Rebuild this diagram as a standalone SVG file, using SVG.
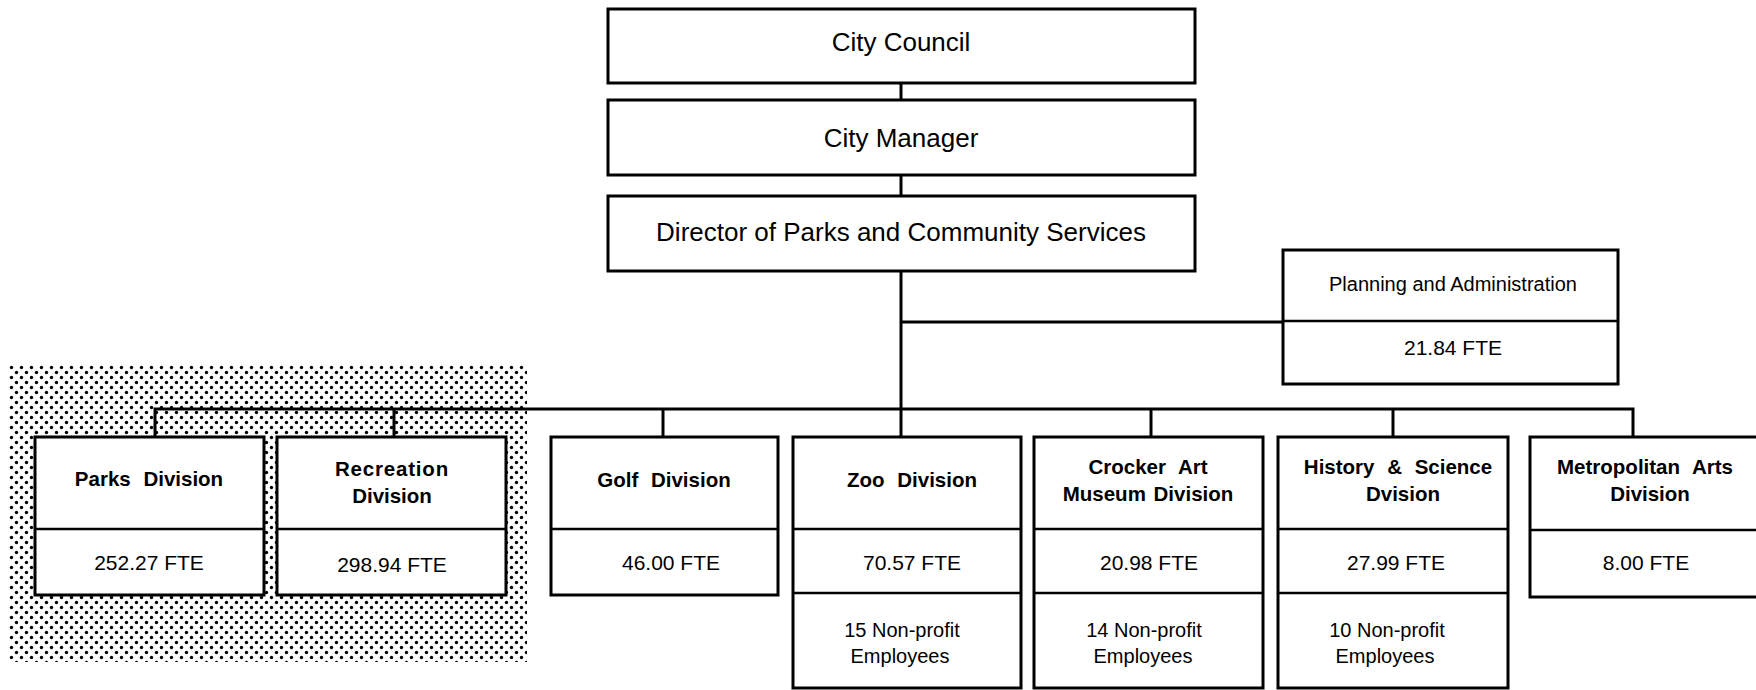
<svg xmlns="http://www.w3.org/2000/svg" width="1756" height="690" viewBox="0 0 1756 690">
<defs>
<pattern id="stip" x="9" y="365" width="10" height="10" patternUnits="userSpaceOnUse">
<circle cx="2.5" cy="2.5" r="1.7" fill="#000"/>
<circle cx="7.5" cy="7.5" r="1.7" fill="#000"/>
</pattern>
<style>
.box{fill:#fff;stroke:#000;stroke-width:3}
.div{stroke:#000;stroke-width:2.5;fill:none}
.con{stroke:#000;stroke-width:3;fill:none}
.top{font-family:"Liberation Sans",Arial,sans-serif;font-size:26px;text-anchor:middle;fill:#000}
.ttl{font-family:"Liberation Sans",Arial,sans-serif;font-size:20.5px;font-weight:bold;text-anchor:middle;fill:#000;word-spacing:7px}
.fte{font-family:"Liberation Sans",Arial,sans-serif;font-size:21px;text-anchor:middle;fill:#000}
.np{font-family:"Liberation Sans",Arial,sans-serif;font-size:20px;text-anchor:middle;fill:#000}
</style>
</defs>
<rect width="1756" height="690" fill="#fff"/>
<rect id="shade" x="9" y="365" width="518" height="297" fill="url(#stip)"/>

<g id="connectors">
<line class="con" x1="901" y1="83" x2="901" y2="100"/>
<line class="con" x1="901" y1="175" x2="901" y2="196"/>
<line class="con" x1="901" y1="271" x2="901" y2="437"/>
<line class="con" x1="901" y1="322" x2="1283" y2="322"/>
<polyline class="con" points="155,437 155,409 1633,409 1633,437"/>
<line class="con" x1="394" y1="409" x2="394" y2="437"/>
<line class="con" x1="663" y1="409" x2="663" y2="437"/>
<line class="con" x1="1151" y1="409" x2="1151" y2="437"/>
<line class="con" x1="1393" y1="409" x2="1393" y2="437"/>
</g>

<g id="city-council">
<rect class="box" x="608" y="9" width="587" height="74"/>
<text class="top" x="901" y="51">City Council</text>
</g>
<g id="city-manager">
<rect class="box" x="608" y="100" width="587" height="75"/>
<text class="top" x="901" y="147">City Manager</text>
</g>
<g id="director">
<rect class="box" x="608" y="196" width="587" height="75"/>
<text class="top" x="901" y="241">Director of Parks and Community Services</text>
</g>
<g id="planning">
<rect class="box" x="1283" y="250" width="335" height="134"/>
<line class="div" x1="1283" y1="321" x2="1618" y2="321"/>
<text class="fte" x="1453" y="291" style="font-size:20px">Planning and Administration</text>
<text class="fte" x="1453" y="355">21.84 FTE</text>
</g>

<g id="parks">
<rect class="box" x="35" y="437" width="229" height="158"/>
<line class="div" x1="35" y1="529" x2="264" y2="529"/>
<text class="ttl" x="149" y="486">Parks Division</text>
<text class="fte" x="149" y="570">252.27 FTE</text>
</g>
<g id="recreation">
<rect class="box" x="277" y="437" width="229" height="158"/>
<line class="div" x1="277" y1="529" x2="506" y2="529"/>
<text class="ttl" x="392" y="476" style="letter-spacing:0.8px">Recreation</text>
<text class="ttl" x="392" y="503">Division</text>
<text class="fte" x="392" y="572">298.94 FTE</text>
</g>
<g id="golf">
<rect class="box" x="551" y="437" width="227" height="158"/>
<line class="div" x1="551" y1="529" x2="778" y2="529"/>
<text class="ttl" x="664" y="487">Golf Division</text>
<text class="fte" x="671" y="570">46.00 FTE</text>
</g>
<g id="zoo">
<rect class="box" x="793" y="437" width="228" height="251"/>
<line class="div" x1="793" y1="529" x2="1021" y2="529"/>
<line class="div" x1="793" y1="593" x2="1021" y2="593"/>
<text class="ttl" x="912" y="487">Zoo Division</text>
<text class="fte" x="912" y="570">70.57 FTE</text>
<text class="np" x="902" y="637">15 Non-profit</text>
<text class="np" x="900" y="663">Employees</text>
</g>
<g id="crocker">
<rect class="box" x="1034" y="437" width="229" height="251"/>
<line class="div" x1="1034" y1="529" x2="1263" y2="529"/>
<line class="div" x1="1034" y1="593" x2="1263" y2="593"/>
<text class="ttl" x="1148" y="474">Crocker Art</text>
<text class="ttl" x="1148" y="501" style="word-spacing:2px">Museum Division</text>
<text class="fte" x="1149" y="570">20.98  FTE</text>
<text class="np" x="1144" y="637">14 Non-profit</text>
<text class="np" x="1143" y="663">Employees</text>
</g>
<g id="history">
<rect class="box" x="1278" y="437" width="230" height="251"/>
<line class="div" x1="1278" y1="529" x2="1508" y2="529"/>
<line class="div" x1="1278" y1="593" x2="1508" y2="593"/>
<text class="ttl" x="1398" y="474">History &amp; Science</text>
<text class="ttl" x="1403" y="501">Dvision</text>
<text class="fte" x="1396" y="570">27.99 FTE</text>
<text class="np" x="1387" y="637">10 Non-profit</text>
<text class="np" x="1385" y="663">Employees</text>
</g>
<g id="metropolitan">
<rect class="box" x="1530" y="437" width="240" height="160"/>
<line class="div" x1="1530" y1="530" x2="1770" y2="530"/>
<text class="ttl" x="1645" y="474">Metropolitan Arts</text>
<text class="ttl" x="1650" y="501">Division</text>
<text class="fte" x="1646" y="570">8.00 FTE</text>
</g>
</svg>
